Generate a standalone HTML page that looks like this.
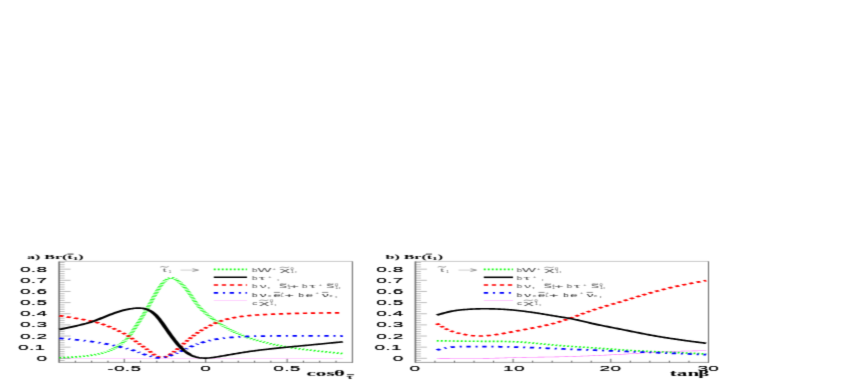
<!DOCTYPE html>
<html><head><meta charset="utf-8"><title>Br</title>
<style>
html,body{margin:0;padding:0;background:#fff;}
body{width:850px;height:382px;overflow:hidden;}
svg{display:block;}
text{font-family:"Liberation Sans",sans-serif;}
.tk{font-size:7.0px;fill:#000;letter-spacing:0.12px;}
.lg{font-size:5.7px;fill:#484848;}
.sup{font-size:3.5px;fill:#484848;}
.tt{font-family:"Liberation Serif",serif;font-weight:bold;font-size:6.6px;fill:#000;}
.ax{font-family:"Liberation Serif",serif;font-weight:bold;font-size:7.6px;fill:#000;}
.axt{font-family:"Liberation Serif",serif;font-weight:bold;font-size:7.7px;fill:#000;}
.axb{font-family:"Liberation Serif",serif;font-weight:bold;font-size:7.2px;fill:#000;}
.axs{font-family:"Liberation Serif",serif;font-weight:bold;font-size:5.5px;fill:#000;}
.tsub{font-size:4.6px;}
</style></head><body>
<svg width="850" height="382" viewBox="0 0 850 382">
<defs><filter id="bl" x="0" y="240" width="850" height="142" filterUnits="userSpaceOnUse" color-interpolation-filters="sRGB"><feConvolveMatrix order="3" kernelMatrix="0.0180 0.0540 0.0180 0.1640 0.4920 0.1640 0.0180 0.0540 0.0180" divisor="1" edgeMode="duplicate" preserveAlpha="false"/></filter></defs>
<rect width="850" height="382" fill="#fff"/>
<g filter="url(#bl)"><rect y="240" width="850" height="142" fill="#fff"/>
<path d="M59.10,360.53 h5.50 M59.10,358.30 h11.50 M59.10,356.07 h5.50 M59.10,353.84 h5.50 M59.10,351.62 h5.50 M59.10,349.39 h5.50 M59.10,347.16 h11.50 M59.10,344.93 h5.50 M59.10,342.70 h5.50 M59.10,340.48 h5.50 M59.10,338.25 h5.50 M59.10,336.02 h11.50 M59.10,333.79 h5.50 M59.10,331.56 h5.50 M59.10,329.34 h5.50 M59.10,327.11 h5.50 M59.10,324.88 h11.50 M59.10,322.65 h5.50 M59.10,320.42 h5.50 M59.10,318.20 h5.50 M59.10,315.97 h5.50 M59.10,313.74 h11.50 M59.10,311.51 h5.50 M59.10,309.28 h5.50 M59.10,307.06 h5.50 M59.10,304.83 h5.50 M59.10,302.60 h11.50 M59.10,300.37 h5.50 M59.10,298.14 h5.50 M59.10,295.92 h5.50 M59.10,293.69 h5.50 M59.10,291.46 h11.50 M59.10,289.23 h5.50 M59.10,287.00 h5.50 M59.10,284.78 h5.50 M59.10,282.55 h5.50 M59.10,280.32 h11.50 M59.10,278.09 h5.50 M59.10,275.86 h5.50 M59.10,273.64 h5.50 M59.10,271.41 h5.50 M59.10,269.18 h11.50 M59.10,266.95 h5.50 M59.10,264.72 h5.50 M59.10,262.50 h5.50 " fill="none" stroke="#8a8a8a" stroke-width="0.55"/>
<path d="M59.10,261.4 H352.40" fill="none" stroke="#a4a4a4" stroke-width="0.6"/>
<path d="M59.10,362.4 H352.40" fill="none" stroke="#777" stroke-width="0.7"/>
<path d="M59.10,261.4 V362.79999999999995" fill="none" stroke="#686868" stroke-width="1.55"/>
<path d="M352.40,261.4 V362.79999999999995" fill="none" stroke="#3a3a3a" stroke-width="0.85"/>
<path d="M124.25,362.4 v-3.6 M205.70,362.4 v-3.6 M287.15,362.4 v-3.6 M75.38,362.4 v-1.7 M91.67,362.4 v-1.7 M107.96,362.4 v-1.7 M140.54,362.4 v-1.7 M156.83,362.4 v-1.7 M173.12,362.4 v-1.7 M189.41,362.4 v-1.7 M221.99,362.4 v-1.7 M238.28,362.4 v-1.7 M254.57,362.4 v-1.7 M270.86,362.4 v-1.7 M303.44,362.4 v-1.7 M319.73,362.4 v-1.7 M336.02,362.4 v-1.7 " fill="none" stroke="#444" stroke-width="0.9"/>
<path d="M415.40,360.53 h5.50 M415.40,358.30 h11.50 M415.40,356.07 h5.50 M415.40,353.84 h5.50 M415.40,351.62 h5.50 M415.40,349.39 h5.50 M415.40,347.16 h11.50 M415.40,344.93 h5.50 M415.40,342.70 h5.50 M415.40,340.48 h5.50 M415.40,338.25 h5.50 M415.40,336.02 h11.50 M415.40,333.79 h5.50 M415.40,331.56 h5.50 M415.40,329.34 h5.50 M415.40,327.11 h5.50 M415.40,324.88 h11.50 M415.40,322.65 h5.50 M415.40,320.42 h5.50 M415.40,318.20 h5.50 M415.40,315.97 h5.50 M415.40,313.74 h11.50 M415.40,311.51 h5.50 M415.40,309.28 h5.50 M415.40,307.06 h5.50 M415.40,304.83 h5.50 M415.40,302.60 h11.50 M415.40,300.37 h5.50 M415.40,298.14 h5.50 M415.40,295.92 h5.50 M415.40,293.69 h5.50 M415.40,291.46 h11.50 M415.40,289.23 h5.50 M415.40,287.00 h5.50 M415.40,284.78 h5.50 M415.40,282.55 h5.50 M415.40,280.32 h11.50 M415.40,278.09 h5.50 M415.40,275.86 h5.50 M415.40,273.64 h5.50 M415.40,271.41 h5.50 M415.40,269.18 h11.50 M415.40,266.95 h5.50 M415.40,264.72 h5.50 M415.40,262.50 h5.50 " fill="none" stroke="#8a8a8a" stroke-width="0.55"/>
<path d="M415.40,261.4 H708.50" fill="none" stroke="#a4a4a4" stroke-width="0.6"/>
<path d="M415.40,362.4 H708.50" fill="none" stroke="#777" stroke-width="0.7"/>
<path d="M415.40,261.4 V362.79999999999995" fill="none" stroke="#686868" stroke-width="1.55"/>
<path d="M708.50,261.4 V362.79999999999995" fill="none" stroke="#3a3a3a" stroke-width="0.85"/>
<path d="M513.10,362.4 v-3.6 M610.80,362.4 v-3.6 M434.94,362.4 v-1.7 M454.48,362.4 v-1.7 M474.02,362.4 v-1.7 M493.56,362.4 v-1.7 M532.64,362.4 v-1.7 M552.18,362.4 v-1.7 M571.72,362.4 v-1.7 M591.26,362.4 v-1.7 M630.34,362.4 v-1.7 M649.88,362.4 v-1.7 M669.42,362.4 v-1.7 M688.96,362.4 v-1.7 " fill="none" stroke="#444" stroke-width="0.9"/>
<g transform="scale(2.7,1)">
<path d="M22.000,358.30 L22.439,358.30 L22.878,358.30 L23.318,358.30 L23.757,358.30 L24.196,358.30 L24.635,358.30 L25.074,358.30 L25.513,358.30 L25.953,358.30 L26.392,358.30 L26.831,358.30 L27.270,358.30 L27.709,358.30 L28.148,358.30 L28.588,358.30 L29.027,358.30 L29.466,358.30 L29.905,358.30 L30.344,358.30 L30.784,358.30 L31.223,358.30 L31.662,358.30 L32.101,358.30 L32.540,358.30 L32.979,358.30 L33.419,358.30 L33.858,358.30 L34.297,358.30 L34.736,358.30 L35.175,358.30 L35.614,358.30 L36.054,358.30 L36.493,358.30 L36.932,358.30 L37.371,358.30 L37.810,358.30 L38.249,358.30 L38.689,358.30 L39.128,358.30 L39.567,358.30 L40.006,358.30 L40.445,358.30 L40.885,358.30 L41.324,358.30 L41.763,358.30 L42.202,358.30 L42.641,358.30 L43.080,358.30 L43.520,358.30 L43.959,358.30 L44.398,358.30 L44.837,358.30 L45.276,358.30 L45.715,358.30 L46.155,358.30 L46.594,358.30 L47.033,358.30 L47.472,358.30 L47.911,358.30 L48.351,358.30 L48.790,358.30 L49.229,358.30 L49.668,358.30 L50.107,358.30 L50.546,358.30 L50.986,358.30 L51.425,358.30 L51.864,358.30 L52.303,358.30 L52.742,358.30 L53.181,358.30 L53.621,358.30 L54.060,358.30 L54.499,358.30 L54.938,358.30 L55.377,358.30 L55.817,358.30 L56.256,358.30 L56.695,358.30 L57.134,358.30 L57.573,358.30 L58.012,358.30 L58.452,358.30 L58.891,358.30 L59.330,358.30 L59.769,358.30 L60.208,358.30 L60.647,358.30 L61.087,358.30 L61.526,358.30 L61.965,358.30 L62.404,358.30 L62.843,358.30 L63.283,358.30 L63.722,358.30 L64.161,358.30 L64.600,358.30 L65.039,358.30 L65.478,358.30 L65.918,358.30 L66.357,358.30 L66.796,358.30 L67.235,358.30 L67.674,358.30 L68.113,358.30 L68.553,358.30 L68.992,358.30 L69.431,358.30 L69.870,358.30 L70.309,358.30 L70.748,358.30 L71.188,358.30 L71.627,358.30 L72.066,358.30 L72.505,358.30 L72.944,358.30 L73.384,358.30 L73.823,358.30 L74.262,358.30 L74.701,358.30 L75.140,358.30 L75.579,358.30 L76.019,358.30 L76.458,358.30 L76.897,358.30 L77.336,358.30 L77.775,358.30 L78.214,358.30 L78.654,358.30 L79.093,358.30 L79.532,358.30 L79.971,358.30 L80.410,358.30 L80.850,358.30 L81.289,358.30 L81.728,358.30 L82.167,358.30 L82.606,358.30 L83.045,358.30 L83.485,358.30 L83.924,358.30 L84.363,358.30 L84.802,358.30 L85.241,358.30 L85.680,358.30 L86.120,358.30 L86.559,358.30 L86.998,358.30 L87.437,358.30 L87.876,358.30 L88.316,358.30 L88.755,358.30 L89.194,358.30 L89.633,358.30 L90.072,358.30 L90.511,358.30 L90.951,358.30 L91.390,358.30 L91.829,358.30 L92.268,358.30 L92.707,358.30 L93.146,358.30 L93.586,358.30 L94.025,358.30 L94.464,358.30 L94.903,358.30 L95.342,358.30 L95.781,358.30 L96.221,358.30 L96.660,358.30 L97.099,358.30 L97.538,358.30 L97.977,358.30 L98.417,358.30 L98.856,358.30 L99.295,358.30 L99.734,358.30 L100.173,358.30 L100.612,358.30 L101.052,358.30 L101.491,358.30 L101.930,358.30 L102.369,358.30 L102.808,358.30 L103.247,358.30 L103.687,358.30 L104.126,358.30 L104.565,358.30 L105.004,358.30 L105.443,358.30 L105.883,358.30 L106.322,358.30 L106.761,358.30 L107.200,358.30 L107.639,358.30 L108.078,358.30 L108.518,358.30 L108.957,358.30 L109.396,358.30 L109.835,358.30 L110.274,358.30 L110.713,358.30 L111.153,358.30 L111.592,358.30 L112.031,358.30 L112.470,358.30 L112.909,358.30 L113.349,358.30 L113.788,358.30 L114.227,358.30 L114.666,358.30 L115.105,358.30 L115.544,358.30 L115.984,358.30 L116.423,358.30 L116.862,358.30 L117.301,358.30 L117.740,358.30 L118.179,358.30 L118.619,358.30 L119.058,358.30 L119.497,358.30 L119.936,358.30 L120.375,358.30 L120.815,358.30 L121.254,358.30 L121.693,358.30 L122.132,358.30 L122.571,358.30 L123.010,358.30 L123.450,358.30 L123.889,358.30 L124.328,358.30 L124.767,358.30 L125.206,358.30 L125.645,358.30 L126.085,358.30 L126.524,358.30 L126.963,358.30" fill="none" stroke="#ff00ff" stroke-width="0.6" stroke-opacity="0.35"/>
<path d="M22.000,357.80 L22.439,357.75 L22.878,357.70 L23.318,357.65 L23.757,357.59 L24.196,357.54 L24.635,357.48 L25.074,357.42 L25.513,357.36 L25.953,357.30 L26.392,357.23 L26.831,357.16 L27.270,357.09 L27.709,357.01 L28.148,356.92 L28.588,356.84 L29.027,356.74 L29.466,356.64 L29.905,356.54 L30.344,356.43 L30.784,356.31 L31.223,356.18 L31.662,356.05 L32.101,355.91 L32.540,355.76 L32.979,355.60 L33.419,355.44 L33.858,355.26 L34.297,355.07 L34.736,354.87 L35.175,354.66 L35.614,354.43 L36.054,354.20 L36.493,353.95 L36.932,353.68 L37.371,353.40 L37.810,353.11 L38.249,352.79 L38.689,352.45 L39.128,352.09 L39.567,351.69 L40.006,351.26 L40.445,350.79 L40.885,350.28 L41.324,349.73 L41.763,349.13 L42.202,348.48 L42.641,347.80 L43.080,347.08 L43.520,346.32 L43.959,345.53 L44.398,344.70 L44.837,343.84 L45.276,342.94 L45.715,341.97 L46.155,340.93 L46.594,339.81 L47.033,338.60 L47.472,337.29 L47.911,335.87 L48.351,334.32 L48.790,332.68 L49.229,330.95 L49.668,329.17 L50.107,327.36 L50.546,325.54 L50.986,323.73 L51.425,321.93 L51.864,320.13 L52.303,318.32 L52.742,316.48 L53.181,314.62 L53.621,312.72 L54.060,310.77 L54.499,308.77 L54.938,306.71 L55.377,304.61 L55.817,302.48 L56.256,300.34 L56.695,298.20 L57.134,296.09 L57.573,294.02 L58.012,292.00 L58.452,290.06 L58.891,288.20 L59.330,286.45 L59.769,284.83 L60.208,283.35 L60.647,282.02 L61.087,280.87 L61.526,279.89 L61.965,279.11 L62.404,278.52 L62.843,278.14 L63.283,277.98 L63.722,278.03 L64.161,278.28 L64.600,278.71 L65.039,279.29 L65.478,280.01 L65.918,280.85 L66.357,281.79 L66.796,282.81 L67.235,283.92 L67.674,285.11 L68.113,286.38 L68.553,287.72 L68.992,289.15 L69.431,290.65 L69.870,292.23 L70.309,293.89 L70.748,295.62 L71.188,297.40 L71.627,299.20 L72.066,300.95 L72.505,302.61 L72.944,304.16 L73.384,305.62 L73.823,307.00 L74.262,308.29 L74.701,309.52 L75.140,310.68 L75.579,311.78 L76.019,312.85 L76.458,313.87 L76.897,314.87 L77.336,315.83 L77.775,316.77 L78.214,317.67 L78.654,318.56 L79.093,319.42 L79.532,320.26 L79.971,321.08 L80.410,321.88 L80.850,322.67 L81.289,323.44 L81.728,324.20 L82.167,324.94 L82.606,325.67 L83.045,326.38 L83.485,327.08 L83.924,327.77 L84.363,328.43 L84.802,329.09 L85.241,329.73 L85.680,330.35 L86.120,330.96 L86.559,331.56 L86.998,332.14 L87.437,332.70 L87.876,333.25 L88.316,333.79 L88.755,334.31 L89.194,334.82 L89.633,335.31 L90.072,335.78 L90.511,336.24 L90.951,336.69 L91.390,337.12 L91.829,337.54 L92.268,337.94 L92.707,338.33 L93.146,338.71 L93.586,339.08 L94.025,339.44 L94.464,339.79 L94.903,340.13 L95.342,340.47 L95.781,340.79 L96.221,341.11 L96.660,341.43 L97.099,341.73 L97.538,342.03 L97.977,342.33 L98.417,342.62 L98.856,342.91 L99.295,343.19 L99.734,343.46 L100.173,343.73 L100.612,344.00 L101.052,344.25 L101.491,344.51 L101.930,344.76 L102.369,345.00 L102.808,345.24 L103.247,345.47 L103.687,345.70 L104.126,345.93 L104.565,346.15 L105.004,346.36 L105.443,346.57 L105.883,346.78 L106.322,346.98 L106.761,347.17 L107.200,347.36 L107.639,347.55 L108.078,347.73 L108.518,347.91 L108.957,348.09 L109.396,348.26 L109.835,348.43 L110.274,348.59 L110.713,348.75 L111.153,348.91 L111.592,349.07 L112.031,349.22 L112.470,349.37 L112.909,349.52 L113.349,349.66 L113.788,349.81 L114.227,349.95 L114.666,350.09 L115.105,350.23 L115.544,350.37 L115.984,350.50 L116.423,350.64 L116.862,350.77 L117.301,350.90 L117.740,351.04 L118.179,351.17 L118.619,351.29 L119.058,351.42 L119.497,351.55 L119.936,351.67 L120.375,351.80 L120.815,351.92 L121.254,352.05 L121.693,352.17 L122.132,352.29 L122.571,352.41 L123.010,352.53 L123.450,352.65 L123.889,352.77 L124.328,352.89 L124.767,353.01 L125.206,353.13 L125.645,353.25 L126.085,353.36 L126.524,353.48 L126.963,353.60" fill="none" stroke="#00ff00" stroke-width="1.65" stroke-dasharray="0.68 0.80"/>
<path d="M22.000,315.70 L22.439,315.88 L22.878,316.07 L23.318,316.25 L23.757,316.43 L24.196,316.62 L24.635,316.80 L25.074,316.99 L25.513,317.18 L25.953,317.36 L26.392,317.55 L26.831,317.75 L27.270,317.94 L27.709,318.14 L28.148,318.34 L28.588,318.54 L29.027,318.74 L29.466,318.95 L29.905,319.16 L30.344,319.37 L30.784,319.58 L31.223,319.80 L31.662,320.03 L32.101,320.25 L32.540,320.49 L32.979,320.73 L33.419,320.98 L33.858,321.24 L34.297,321.51 L34.736,321.78 L35.175,322.07 L35.614,322.37 L36.054,322.69 L36.493,323.01 L36.932,323.36 L37.371,323.72 L37.810,324.09 L38.249,324.48 L38.689,324.89 L39.128,325.31 L39.567,325.75 L40.006,326.20 L40.445,326.68 L40.885,327.17 L41.324,327.67 L41.763,328.19 L42.202,328.73 L42.641,329.27 L43.080,329.82 L43.520,330.39 L43.959,330.95 L44.398,331.52 L44.837,332.10 L45.276,332.68 L45.715,333.28 L46.155,333.89 L46.594,334.54 L47.033,335.22 L47.472,335.94 L47.911,336.70 L48.351,337.51 L48.790,338.36 L49.229,339.23 L49.668,340.11 L50.107,341.00 L50.546,341.88 L50.986,342.75 L51.425,343.59 L51.864,344.43 L52.303,345.25 L52.742,346.08 L53.181,346.91 L53.621,347.75 L54.060,348.60 L54.499,349.47 L54.938,350.35 L55.377,351.23 L55.817,352.10 L56.256,352.96 L56.695,353.79 L57.134,354.58 L57.573,355.32 L58.012,355.98 L58.452,356.57 L58.891,357.04 L59.330,357.38 L59.769,357.56 L60.208,357.56 L60.647,357.38 L61.087,357.05 L61.526,356.60 L61.965,356.08 L62.404,355.47 L62.843,354.79 L63.283,354.04 L63.722,353.23 L64.161,352.37 L64.600,351.46 L65.039,350.52 L65.478,349.56 L65.918,348.57 L66.357,347.57 L66.796,346.56 L67.235,345.54 L67.674,344.53 L68.113,343.51 L68.553,342.51 L68.992,341.51 L69.431,340.53 L69.870,339.56 L70.309,338.60 L70.748,337.67 L71.188,336.74 L71.627,335.83 L72.066,334.93 L72.505,334.06 L72.944,333.21 L73.384,332.39 L73.823,331.61 L74.262,330.86 L74.701,330.14 L75.140,329.45 L75.579,328.78 L76.019,328.13 L76.458,327.49 L76.897,326.86 L77.336,326.25 L77.775,325.65 L78.214,325.06 L78.654,324.49 L79.093,323.94 L79.532,323.40 L79.971,322.89 L80.410,322.40 L80.850,321.93 L81.289,321.49 L81.728,321.07 L82.167,320.67 L82.606,320.30 L83.045,319.94 L83.485,319.60 L83.924,319.28 L84.363,318.97 L84.802,318.69 L85.241,318.42 L85.680,318.16 L86.120,317.91 L86.559,317.68 L86.998,317.46 L87.437,317.26 L87.876,317.06 L88.316,316.88 L88.755,316.70 L89.194,316.53 L89.633,316.38 L90.072,316.23 L90.511,316.09 L90.951,315.96 L91.390,315.83 L91.829,315.72 L92.268,315.61 L92.707,315.50 L93.146,315.40 L93.586,315.30 L94.025,315.21 L94.464,315.13 L94.903,315.05 L95.342,314.97 L95.781,314.89 L96.221,314.82 L96.660,314.75 L97.099,314.69 L97.538,314.63 L97.977,314.57 L98.417,314.51 L98.856,314.45 L99.295,314.40 L99.734,314.34 L100.173,314.29 L100.612,314.24 L101.052,314.19 L101.491,314.14 L101.930,314.09 L102.369,314.04 L102.808,314.00 L103.247,313.95 L103.687,313.91 L104.126,313.86 L104.565,313.82 L105.004,313.78 L105.443,313.74 L105.883,313.70 L106.322,313.66 L106.761,313.62 L107.200,313.59 L107.639,313.55 L108.078,313.52 L108.518,313.49 L108.957,313.45 L109.396,313.42 L109.835,313.40 L110.274,313.37 L110.713,313.34 L111.153,313.31 L111.592,313.29 L112.031,313.26 L112.470,313.24 L112.909,313.22 L113.349,313.20 L113.788,313.18 L114.227,313.16 L114.666,313.14 L115.105,313.12 L115.544,313.10 L115.984,313.08 L116.423,313.07 L116.862,313.05 L117.301,313.04 L117.740,313.02 L118.179,313.01 L118.619,312.99 L119.058,312.98 L119.497,312.97 L119.936,312.95 L120.375,312.94 L120.815,312.93 L121.254,312.92 L121.693,312.91 L122.132,312.90 L122.571,312.89 L123.010,312.88 L123.450,312.87 L123.889,312.86 L124.328,312.85 L124.767,312.84 L125.206,312.83 L125.645,312.83 L126.085,312.82 L126.524,312.81 L126.963,312.80" fill="none" stroke="#ff0000" stroke-width="1.65" stroke-dasharray="1.6 1.37"/>
<path d="M22.000,338.30 L22.439,338.40 L22.878,338.49 L23.318,338.59 L23.757,338.69 L24.196,338.79 L24.635,338.89 L25.074,338.99 L25.513,339.09 L25.953,339.19 L26.392,339.30 L26.831,339.40 L27.270,339.51 L27.709,339.63 L28.148,339.74 L28.588,339.86 L29.027,339.98 L29.466,340.10 L29.905,340.23 L30.344,340.36 L30.784,340.49 L31.223,340.63 L31.662,340.77 L32.101,340.92 L32.540,341.06 L32.979,341.22 L33.419,341.38 L33.858,341.54 L34.297,341.71 L34.736,341.88 L35.175,342.05 L35.614,342.23 L36.054,342.42 L36.493,342.61 L36.932,342.80 L37.371,343.00 L37.810,343.20 L38.249,343.41 L38.689,343.63 L39.128,343.84 L39.567,344.07 L40.006,344.30 L40.445,344.53 L40.885,344.77 L41.324,345.02 L41.763,345.27 L42.202,345.52 L42.641,345.78 L43.080,346.05 L43.520,346.31 L43.959,346.59 L44.398,346.86 L44.837,347.14 L45.276,347.42 L45.715,347.70 L46.155,347.98 L46.594,348.27 L47.033,348.56 L47.472,348.87 L47.911,349.19 L48.351,349.53 L48.790,349.88 L49.229,350.26 L49.668,350.65 L50.107,351.08 L50.546,351.52 L50.986,351.97 L51.425,352.43 L51.864,352.89 L52.303,353.33 L52.742,353.76 L53.181,354.17 L53.621,354.55 L54.060,354.90 L54.499,355.23 L54.938,355.55 L55.377,355.85 L55.817,356.16 L56.256,356.48 L56.695,356.80 L57.134,357.10 L57.573,357.38 L58.012,357.62 L58.452,357.80 L58.891,357.92 L59.330,357.97 L59.769,357.92 L60.208,357.79 L60.647,357.58 L61.087,357.31 L61.526,356.99 L61.965,356.64 L62.404,356.26 L62.843,355.85 L63.283,355.42 L63.722,354.98 L64.161,354.52 L64.600,354.04 L65.039,353.56 L65.478,353.07 L65.918,352.57 L66.357,352.07 L66.796,351.55 L67.235,351.02 L67.674,350.47 L68.113,349.92 L68.553,349.37 L68.992,348.81 L69.431,348.26 L69.870,347.72 L70.309,347.18 L70.748,346.66 L71.188,346.15 L71.627,345.65 L72.066,345.17 L72.505,344.71 L72.944,344.28 L73.384,343.85 L73.823,343.45 L74.262,343.06 L74.701,342.68 L75.140,342.31 L75.579,341.96 L76.019,341.63 L76.458,341.31 L76.897,341.00 L77.336,340.71 L77.775,340.44 L78.214,340.18 L78.654,339.94 L79.093,339.70 L79.532,339.48 L79.971,339.28 L80.410,339.08 L80.850,338.89 L81.289,338.72 L81.728,338.55 L82.167,338.39 L82.606,338.24 L83.045,338.10 L83.485,337.97 L83.924,337.84 L84.363,337.72 L84.802,337.61 L85.241,337.50 L85.680,337.40 L86.120,337.31 L86.559,337.21 L86.998,337.13 L87.437,337.04 L87.876,336.96 L88.316,336.89 L88.755,336.82 L89.194,336.75 L89.633,336.69 L90.072,336.63 L90.511,336.57 L90.951,336.52 L91.390,336.47 L91.829,336.42 L92.268,336.38 L92.707,336.34 L93.146,336.30 L93.586,336.27 L94.025,336.23 L94.464,336.21 L94.903,336.18 L95.342,336.16 L95.781,336.13 L96.221,336.11 L96.660,336.10 L97.099,336.08 L97.538,336.06 L97.977,336.05 L98.417,336.04 L98.856,336.03 L99.295,336.02 L99.734,336.01 L100.173,336.00 L100.612,335.99 L101.052,335.98 L101.491,335.97 L101.930,335.97 L102.369,335.96 L102.808,335.95 L103.247,335.95 L103.687,335.94 L104.126,335.94 L104.565,335.93 L105.004,335.93 L105.443,335.92 L105.883,335.92 L106.322,335.91 L106.761,335.91 L107.200,335.91 L107.639,335.90 L108.078,335.90 L108.518,335.90 L108.957,335.90 L109.396,335.90 L109.835,335.90 L110.274,335.90 L110.713,335.89 L111.153,335.89 L111.592,335.89 L112.031,335.89 L112.470,335.90 L112.909,335.90 L113.349,335.90 L113.788,335.90 L114.227,335.90 L114.666,335.90 L115.105,335.90 L115.544,335.90 L115.984,335.91 L116.423,335.91 L116.862,335.91 L117.301,335.91 L117.740,335.92 L118.179,335.92 L118.619,335.92 L119.058,335.93 L119.497,335.93 L119.936,335.93 L120.375,335.94 L120.815,335.94 L121.254,335.94 L121.693,335.95 L122.132,335.95 L122.571,335.96 L123.010,335.96 L123.450,335.96 L123.889,335.97 L124.328,335.97 L124.767,335.98 L125.206,335.98 L125.645,335.99 L126.085,335.99 L126.524,336.00 L126.963,336.00" fill="none" stroke="#0000ff" stroke-width="1.75" stroke-dasharray="1.6 1.8 0.74 1.74"/>
<path d="M22.000,329.50 L22.439,329.26 L22.878,329.02 L23.318,328.78 L23.757,328.53 L24.196,328.29 L24.635,328.04 L25.074,327.79 L25.513,327.54 L25.953,327.28 L26.392,327.02 L26.831,326.76 L27.270,326.49 L27.709,326.22 L28.148,325.95 L28.588,325.68 L29.027,325.40 L29.466,325.12 L29.905,324.83 L30.344,324.54 L30.784,324.25 L31.223,323.95 L31.662,323.64 L32.101,323.32 L32.540,322.98 L32.979,322.64 L33.419,322.28 L33.858,321.90 L34.297,321.51 L34.736,321.10 L35.175,320.68 L35.614,320.24 L36.054,319.79 L36.493,319.33 L36.932,318.86 L37.371,318.39 L37.810,317.91 L38.249,317.44 L38.689,316.96 L39.128,316.48 L39.567,316.01 L40.006,315.54 L40.445,315.07 L40.885,314.61 L41.324,314.16 L41.763,313.72 L42.202,313.28 L42.641,312.86 L43.080,312.45 L43.520,312.05 L43.959,311.66 L44.398,311.29 L44.837,310.93 L45.276,310.59 L45.715,310.27 L46.155,309.97 L46.594,309.69 L47.033,309.44 L47.472,309.20 L47.911,308.99 L48.351,308.80 L48.790,308.63 L49.229,308.48 L49.668,308.34 L50.107,308.24 L50.546,308.15 L50.986,308.11 L51.425,308.10 L51.864,308.13 L52.303,308.21 L52.742,308.34 L53.181,308.53 L53.621,308.79 L54.060,309.11 L54.499,309.51 L54.938,309.99 L55.377,310.55 L55.817,311.21 L56.256,311.96 L56.695,312.82 L57.134,313.79 L57.573,314.88 L58.012,316.08 L58.452,317.40 L58.891,318.84 L59.330,320.35 L59.769,321.94 L60.208,323.58 L60.647,325.25 L61.087,326.94 L61.526,328.64 L61.965,330.35 L62.404,332.04 L62.843,333.71 L63.283,335.36 L63.722,336.98 L64.161,338.57 L64.600,340.11 L65.039,341.60 L65.478,343.04 L65.918,344.42 L66.357,345.72 L66.796,346.95 L67.235,348.12 L67.674,349.23 L68.113,350.28 L68.553,351.26 L68.992,352.18 L69.431,353.02 L69.870,353.79 L70.309,354.50 L70.748,355.13 L71.188,355.69 L71.627,356.18 L72.066,356.61 L72.505,356.97 L72.944,357.28 L73.384,357.52 L73.823,357.72 L74.262,357.88 L74.701,357.99 L75.140,358.06 L75.579,358.10 L76.019,358.11 L76.458,358.08 L76.897,358.03 L77.336,357.95 L77.775,357.85 L78.214,357.72 L78.654,357.58 L79.093,357.43 L79.532,357.26 L79.971,357.08 L80.410,356.89 L80.850,356.70 L81.289,356.50 L81.728,356.30 L82.167,356.10 L82.606,355.89 L83.045,355.69 L83.485,355.48 L83.924,355.27 L84.363,355.06 L84.802,354.84 L85.241,354.63 L85.680,354.42 L86.120,354.22 L86.559,354.01 L86.998,353.81 L87.437,353.60 L87.876,353.40 L88.316,353.21 L88.755,353.01 L89.194,352.82 L89.633,352.63 L90.072,352.44 L90.511,352.25 L90.951,352.07 L91.390,351.89 L91.829,351.71 L92.268,351.54 L92.707,351.37 L93.146,351.20 L93.586,351.04 L94.025,350.88 L94.464,350.72 L94.903,350.56 L95.342,350.41 L95.781,350.26 L96.221,350.11 L96.660,349.97 L97.099,349.82 L97.538,349.68 L97.977,349.55 L98.417,349.41 L98.856,349.28 L99.295,349.14 L99.734,349.01 L100.173,348.88 L100.612,348.75 L101.052,348.63 L101.491,348.50 L101.930,348.38 L102.369,348.25 L102.808,348.13 L103.247,348.01 L103.687,347.89 L104.126,347.77 L104.565,347.65 L105.004,347.53 L105.443,347.42 L105.883,347.30 L106.322,347.19 L106.761,347.07 L107.200,346.96 L107.639,346.84 L108.078,346.73 L108.518,346.62 L108.957,346.50 L109.396,346.39 L109.835,346.28 L110.274,346.17 L110.713,346.06 L111.153,345.94 L111.592,345.83 L112.031,345.72 L112.470,345.61 L112.909,345.50 L113.349,345.39 L113.788,345.27 L114.227,345.16 L114.666,345.05 L115.105,344.93 L115.544,344.82 L115.984,344.71 L116.423,344.59 L116.862,344.48 L117.301,344.36 L117.740,344.25 L118.179,344.13 L118.619,344.02 L119.058,343.90 L119.497,343.79 L119.936,343.67 L120.375,343.55 L120.815,343.44 L121.254,343.32 L121.693,343.21 L122.132,343.09 L122.571,342.97 L123.010,342.86 L123.450,342.74 L123.889,342.62 L124.328,342.50 L124.767,342.39 L125.206,342.27 L125.645,342.15 L126.085,342.03 L126.524,341.92 L126.963,341.80" fill="none" stroke="#000" stroke-width="1.6"/>
<path d="M161.778,358.30 L162.195,358.31 L162.613,358.32 L163.030,358.33 L163.448,358.35 L163.865,358.36 L164.283,358.37 L164.700,358.38 L165.118,358.39 L165.535,358.40 L165.953,358.41 L166.370,358.42 L166.788,358.43 L167.205,358.44 L167.623,358.45 L168.040,358.46 L168.457,358.46 L168.875,358.47 L169.292,358.48 L169.710,358.48 L170.127,358.49 L170.545,358.49 L170.962,358.50 L171.380,358.50 L171.797,358.51 L172.215,358.51 L172.632,358.51 L173.050,358.51 L173.467,358.51 L173.885,358.51 L174.302,358.51 L174.720,358.50 L175.137,358.50 L175.555,358.49 L175.972,358.49 L176.390,358.48 L176.807,358.47 L177.225,358.46 L177.642,358.45 L178.060,358.44 L178.477,358.43 L178.894,358.42 L179.312,358.40 L179.729,358.38 L180.147,358.37 L180.564,358.35 L180.982,358.33 L181.399,358.30 L181.817,358.28 L182.234,358.26 L182.652,358.23 L183.069,358.20 L183.487,358.17 L183.904,358.14 L184.322,358.11 L184.739,358.08 L185.157,358.05 L185.574,358.02 L185.992,357.98 L186.409,357.95 L186.827,357.92 L187.244,357.88 L187.662,357.85 L188.079,357.81 L188.497,357.78 L188.914,357.75 L189.331,357.71 L189.749,357.68 L190.166,357.65 L190.584,357.61 L191.001,357.58 L191.419,357.55 L191.836,357.52 L192.254,357.49 L192.671,357.47 L193.089,357.44 L193.506,357.41 L193.924,357.39 L194.341,357.37 L194.759,357.34 L195.176,357.32 L195.594,357.30 L196.011,357.29 L196.429,357.27 L196.846,357.25 L197.264,357.24 L197.681,357.22 L198.099,357.21 L198.516,357.19 L198.934,357.18 L199.351,357.16 L199.768,357.15 L200.186,357.13 L200.603,357.12 L201.021,357.11 L201.438,357.09 L201.856,357.07 L202.273,357.06 L202.691,357.04 L203.108,357.03 L203.526,357.01 L203.943,356.99 L204.361,356.97 L204.778,356.95 L205.196,356.93 L205.613,356.90 L206.031,356.88 L206.448,356.85 L206.866,356.83 L207.283,356.80 L207.701,356.78 L208.118,356.75 L208.536,356.72 L208.953,356.69 L209.371,356.66 L209.788,356.63 L210.205,356.59 L210.623,356.56 L211.040,356.53 L211.458,356.49 L211.875,356.46 L212.293,356.42 L212.710,356.38 L213.128,356.35 L213.545,356.31 L213.963,356.27 L214.380,356.23 L214.798,356.19 L215.215,356.15 L215.633,356.11 L216.050,356.06 L216.468,356.02 L216.885,355.98 L217.303,355.93 L217.720,355.89 L218.138,355.84 L218.555,355.80 L218.973,355.75 L219.390,355.70 L219.808,355.65 L220.225,355.61 L220.642,355.56 L221.060,355.51 L221.477,355.46 L221.895,355.41 L222.312,355.36 L222.730,355.30 L223.147,355.25 L223.565,355.20 L223.982,355.14 L224.400,355.09 L224.817,355.04 L225.235,354.98 L225.652,354.92 L226.070,354.87 L226.487,354.81 L226.905,354.75 L227.322,354.70 L227.740,354.64 L228.157,354.58 L228.575,354.52 L228.992,354.46 L229.410,354.39 L229.827,354.33 L230.245,354.27 L230.662,354.21 L231.079,354.14 L231.497,354.08 L231.914,354.01 L232.332,353.95 L232.749,353.88 L233.167,353.81 L233.584,353.75 L234.002,353.68 L234.419,353.61 L234.837,353.54 L235.254,353.47 L235.672,353.40 L236.089,353.33 L236.507,353.25 L236.924,353.18 L237.342,353.11 L237.759,353.04 L238.177,352.97 L238.594,352.89 L239.012,352.82 L239.429,352.75 L239.847,352.68 L240.264,352.61 L240.682,352.54 L241.099,352.47 L241.517,352.40 L241.934,352.33 L242.351,352.26 L242.769,352.20 L243.186,352.14 L243.604,352.07 L244.021,352.01 L244.439,351.95 L244.856,351.89 L245.274,351.84 L245.691,351.78 L246.109,351.73 L246.526,351.68 L246.944,351.63 L247.361,351.59 L247.779,351.54 L248.196,351.50 L248.614,351.46 L249.031,351.42 L249.449,351.38 L249.866,351.34 L250.284,351.30 L250.701,351.27 L251.119,351.24 L251.536,351.21 L251.954,351.18 L252.371,351.15 L252.788,351.12 L253.206,351.09 L253.623,351.07 L254.041,351.04 L254.458,351.02 L254.876,350.99 L255.293,350.97 L255.711,350.95 L256.128,350.93 L256.546,350.91 L256.963,350.89 L257.381,350.87 L257.798,350.85 L258.216,350.83 L258.633,350.82 L259.051,350.80 L259.468,350.78 L259.886,350.76 L260.303,350.75 L260.721,350.73 L261.138,350.72 L261.556,350.70" fill="none" stroke="#ff00ff" stroke-width="0.6" stroke-opacity="0.55"/>
<path d="M161.778,340.80 L162.195,340.82 L162.613,340.83 L163.030,340.85 L163.448,340.87 L163.865,340.89 L164.283,340.90 L164.700,340.92 L165.118,340.94 L165.535,340.95 L165.953,340.97 L166.370,340.99 L166.788,341.00 L167.205,341.02 L167.623,341.03 L168.040,341.05 L168.457,341.06 L168.875,341.08 L169.292,341.09 L169.710,341.11 L170.127,341.12 L170.545,341.13 L170.962,341.15 L171.380,341.16 L171.797,341.17 L172.215,341.18 L172.632,341.20 L173.050,341.21 L173.467,341.22 L173.885,341.23 L174.302,341.24 L174.720,341.25 L175.137,341.26 L175.555,341.26 L175.972,341.27 L176.390,341.28 L176.807,341.28 L177.225,341.29 L177.642,341.30 L178.060,341.30 L178.477,341.30 L178.894,341.31 L179.312,341.31 L179.729,341.31 L180.147,341.31 L180.564,341.32 L180.982,341.32 L181.399,341.32 L181.817,341.33 L182.234,341.33 L182.652,341.33 L183.069,341.34 L183.487,341.35 L183.904,341.35 L184.322,341.36 L184.739,341.37 L185.157,341.39 L185.574,341.40 L185.992,341.42 L186.409,341.43 L186.827,341.45 L187.244,341.47 L187.662,341.50 L188.079,341.53 L188.497,341.56 L188.914,341.59 L189.331,341.62 L189.749,341.66 L190.166,341.70 L190.584,341.75 L191.001,341.80 L191.419,341.85 L191.836,341.90 L192.254,341.96 L192.671,342.03 L193.089,342.09 L193.506,342.17 L193.924,342.24 L194.341,342.32 L194.759,342.41 L195.176,342.50 L195.594,342.59 L196.011,342.69 L196.429,342.79 L196.846,342.89 L197.264,342.99 L197.681,343.10 L198.099,343.21 L198.516,343.31 L198.934,343.43 L199.351,343.54 L199.768,343.65 L200.186,343.76 L200.603,343.88 L201.021,343.99 L201.438,344.10 L201.856,344.22 L202.273,344.33 L202.691,344.44 L203.108,344.55 L203.526,344.65 L203.943,344.76 L204.361,344.86 L204.778,344.96 L205.196,345.06 L205.613,345.16 L206.031,345.25 L206.448,345.35 L206.866,345.44 L207.283,345.53 L207.701,345.62 L208.118,345.70 L208.536,345.79 L208.953,345.88 L209.371,345.96 L209.788,346.04 L210.205,346.12 L210.623,346.20 L211.040,346.28 L211.458,346.36 L211.875,346.44 L212.293,346.52 L212.710,346.59 L213.128,346.67 L213.545,346.74 L213.963,346.82 L214.380,346.89 L214.798,346.97 L215.215,347.04 L215.633,347.12 L216.050,347.19 L216.468,347.27 L216.885,347.34 L217.303,347.42 L217.720,347.49 L218.138,347.57 L218.555,347.64 L218.973,347.72 L219.390,347.80 L219.808,347.88 L220.225,347.95 L220.642,348.03 L221.060,348.11 L221.477,348.19 L221.895,348.27 L222.312,348.35 L222.730,348.43 L223.147,348.52 L223.565,348.60 L223.982,348.68 L224.400,348.76 L224.817,348.84 L225.235,348.92 L225.652,349.00 L226.070,349.09 L226.487,349.17 L226.905,349.25 L227.322,349.33 L227.740,349.41 L228.157,349.49 L228.575,349.57 L228.992,349.65 L229.410,349.72 L229.827,349.80 L230.245,349.88 L230.662,349.95 L231.079,350.03 L231.497,350.10 L231.914,350.18 L232.332,350.25 L232.749,350.32 L233.167,350.39 L233.584,350.46 L234.002,350.53 L234.419,350.60 L234.837,350.66 L235.254,350.73 L235.672,350.79 L236.089,350.85 L236.507,350.91 L236.924,350.97 L237.342,351.03 L237.759,351.09 L238.177,351.14 L238.594,351.20 L239.012,351.25 L239.429,351.30 L239.847,351.36 L240.264,351.41 L240.682,351.46 L241.099,351.51 L241.517,351.56 L241.934,351.61 L242.351,351.65 L242.769,351.70 L243.186,351.75 L243.604,351.80 L244.021,351.84 L244.439,351.89 L244.856,351.94 L245.274,351.98 L245.691,352.03 L246.109,352.07 L246.526,352.12 L246.944,352.17 L247.361,352.21 L247.779,352.26 L248.196,352.31 L248.614,352.35 L249.031,352.40 L249.449,352.45 L249.866,352.49 L250.284,352.54 L250.701,352.59 L251.119,352.64 L251.536,352.69 L251.954,352.74 L252.371,352.79 L252.788,352.84 L253.206,352.90 L253.623,352.95 L254.041,353.00 L254.458,353.05 L254.876,353.11 L255.293,353.16 L255.711,353.22 L256.128,353.27 L256.546,353.33 L256.963,353.38 L257.381,353.44 L257.798,353.49 L258.216,353.55 L258.633,353.60 L259.051,353.66 L259.468,353.72 L259.886,353.77 L260.303,353.83 L260.721,353.89 L261.138,353.94 L261.556,354.00" fill="none" stroke="#00ff00" stroke-width="1.65" stroke-dasharray="0.68 0.80"/>
<path d="M161.778,323.53 L162.195,324.22 L162.613,324.91 L163.030,325.59 L163.448,326.26 L163.865,326.91 L164.283,327.54 L164.700,328.15 L165.118,328.73 L165.535,329.27 L165.953,329.78 L166.370,330.26 L166.788,330.70 L167.205,331.12 L167.623,331.51 L168.040,331.87 L168.457,332.21 L168.875,332.53 L169.292,332.84 L169.710,333.12 L170.127,333.39 L170.545,333.65 L170.962,333.89 L171.380,334.13 L171.797,334.35 L172.215,334.57 L172.632,334.77 L173.050,334.95 L173.467,335.13 L173.885,335.29 L174.302,335.44 L174.720,335.57 L175.137,335.68 L175.555,335.78 L175.972,335.87 L176.390,335.93 L176.807,335.98 L177.225,336.01 L177.642,336.02 L178.060,336.01 L178.477,335.98 L178.894,335.94 L179.312,335.89 L179.729,335.82 L180.147,335.74 L180.564,335.64 L180.982,335.54 L181.399,335.42 L181.817,335.29 L182.234,335.16 L182.652,335.01 L183.069,334.86 L183.487,334.70 L183.904,334.54 L184.322,334.37 L184.739,334.20 L185.157,334.02 L185.574,333.83 L185.992,333.65 L186.409,333.46 L186.827,333.26 L187.244,333.06 L187.662,332.86 L188.079,332.66 L188.497,332.45 L188.914,332.25 L189.331,332.04 L189.749,331.83 L190.166,331.62 L190.584,331.41 L191.001,331.20 L191.419,330.99 L191.836,330.78 L192.254,330.57 L192.671,330.37 L193.089,330.16 L193.506,329.95 L193.924,329.74 L194.341,329.54 L194.759,329.33 L195.176,329.12 L195.594,328.91 L196.011,328.70 L196.429,328.49 L196.846,328.28 L197.264,328.07 L197.681,327.85 L198.099,327.64 L198.516,327.42 L198.934,327.20 L199.351,326.98 L199.768,326.75 L200.186,326.52 L200.603,326.29 L201.021,326.05 L201.438,325.81 L201.856,325.57 L202.273,325.31 L202.691,325.05 L203.108,324.79 L203.526,324.51 L203.943,324.23 L204.361,323.94 L204.778,323.64 L205.196,323.34 L205.613,323.03 L206.031,322.71 L206.448,322.38 L206.866,322.05 L207.283,321.71 L207.701,321.36 L208.118,321.01 L208.536,320.65 L208.953,320.28 L209.371,319.91 L209.788,319.54 L210.205,319.16 L210.623,318.77 L211.040,318.38 L211.458,317.99 L211.875,317.59 L212.293,317.19 L212.710,316.79 L213.128,316.38 L213.545,315.97 L213.963,315.56 L214.380,315.15 L214.798,314.74 L215.215,314.33 L215.633,313.91 L216.050,313.50 L216.468,313.09 L216.885,312.69 L217.303,312.28 L217.720,311.88 L218.138,311.49 L218.555,311.09 L218.973,310.70 L219.390,310.32 L219.808,309.94 L220.225,309.57 L220.642,309.21 L221.060,308.84 L221.477,308.49 L221.895,308.13 L222.312,307.79 L222.730,307.44 L223.147,307.10 L223.565,306.76 L223.982,306.42 L224.400,306.09 L224.817,305.76 L225.235,305.43 L225.652,305.10 L226.070,304.77 L226.487,304.44 L226.905,304.12 L227.322,303.79 L227.740,303.46 L228.157,303.14 L228.575,302.81 L228.992,302.48 L229.410,302.15 L229.827,301.82 L230.245,301.48 L230.662,301.15 L231.079,300.81 L231.497,300.47 L231.914,300.13 L232.332,299.79 L232.749,299.44 L233.167,299.10 L233.584,298.76 L234.002,298.41 L234.419,298.07 L234.837,297.72 L235.254,297.38 L235.672,297.04 L236.089,296.69 L236.507,296.35 L236.924,296.01 L237.342,295.67 L237.759,295.34 L238.177,295.00 L238.594,294.67 L239.012,294.34 L239.429,294.01 L239.847,293.68 L240.264,293.35 L240.682,293.03 L241.099,292.72 L241.517,292.40 L241.934,292.09 L242.351,291.78 L242.769,291.47 L243.186,291.17 L243.604,290.87 L244.021,290.57 L244.439,290.28 L244.856,289.99 L245.274,289.70 L245.691,289.42 L246.109,289.14 L246.526,288.86 L246.944,288.58 L247.361,288.31 L247.779,288.04 L248.196,287.77 L248.614,287.51 L249.031,287.25 L249.449,287.00 L249.866,286.74 L250.284,286.49 L250.701,286.25 L251.119,286.00 L251.536,285.76 L251.954,285.52 L252.371,285.29 L252.788,285.06 L253.206,284.83 L253.623,284.60 L254.041,284.38 L254.458,284.15 L254.876,283.93 L255.293,283.72 L255.711,283.50 L256.128,283.29 L256.546,283.07 L256.963,282.86 L257.381,282.65 L257.798,282.44 L258.216,282.24 L258.633,282.03 L259.051,281.82 L259.468,281.62 L259.886,281.41 L260.303,281.21 L260.721,281.01 L261.138,280.80 L261.556,280.60" fill="none" stroke="#ff0000" stroke-width="1.65" stroke-dasharray="1.6 1.37"/>
<path d="M161.778,350.08 L162.195,349.79 L162.613,349.51 L163.030,349.23 L163.448,348.95 L163.865,348.69 L164.283,348.44 L164.700,348.20 L165.118,347.98 L165.535,347.79 L165.953,347.61 L166.370,347.45 L166.788,347.31 L167.205,347.19 L167.623,347.09 L168.040,347.00 L168.457,346.93 L168.875,346.87 L169.292,346.82 L169.710,346.78 L170.127,346.75 L170.545,346.73 L170.962,346.71 L171.380,346.70 L171.797,346.70 L172.215,346.69 L172.632,346.69 L173.050,346.69 L173.467,346.69 L173.885,346.68 L174.302,346.68 L174.720,346.68 L175.137,346.68 L175.555,346.67 L175.972,346.67 L176.390,346.67 L176.807,346.67 L177.225,346.66 L177.642,346.66 L178.060,346.66 L178.477,346.66 L178.894,346.66 L179.312,346.66 L179.729,346.66 L180.147,346.66 L180.564,346.66 L180.982,346.67 L181.399,346.67 L181.817,346.68 L182.234,346.68 L182.652,346.69 L183.069,346.70 L183.487,346.71 L183.904,346.72 L184.322,346.73 L184.739,346.74 L185.157,346.76 L185.574,346.77 L185.992,346.79 L186.409,346.81 L186.827,346.82 L187.244,346.84 L187.662,346.87 L188.079,346.89 L188.497,346.91 L188.914,346.94 L189.331,346.96 L189.749,346.99 L190.166,347.02 L190.584,347.05 L191.001,347.08 L191.419,347.11 L191.836,347.14 L192.254,347.17 L192.671,347.21 L193.089,347.25 L193.506,347.28 L193.924,347.32 L194.341,347.36 L194.759,347.40 L195.176,347.44 L195.594,347.48 L196.011,347.53 L196.429,347.57 L196.846,347.61 L197.264,347.66 L197.681,347.71 L198.099,347.75 L198.516,347.80 L198.934,347.85 L199.351,347.89 L199.768,347.94 L200.186,347.99 L200.603,348.04 L201.021,348.09 L201.438,348.14 L201.856,348.18 L202.273,348.23 L202.691,348.28 L203.108,348.33 L203.526,348.38 L203.943,348.43 L204.361,348.47 L204.778,348.52 L205.196,348.57 L205.613,348.62 L206.031,348.66 L206.448,348.71 L206.866,348.76 L207.283,348.80 L207.701,348.85 L208.118,348.90 L208.536,348.94 L208.953,348.99 L209.371,349.03 L209.788,349.08 L210.205,349.12 L210.623,349.17 L211.040,349.21 L211.458,349.26 L211.875,349.30 L212.293,349.35 L212.710,349.39 L213.128,349.44 L213.545,349.48 L213.963,349.52 L214.380,349.57 L214.798,349.61 L215.215,349.66 L215.633,349.70 L216.050,349.74 L216.468,349.79 L216.885,349.83 L217.303,349.88 L217.720,349.92 L218.138,349.97 L218.555,350.01 L218.973,350.05 L219.390,350.10 L219.808,350.14 L220.225,350.19 L220.642,350.23 L221.060,350.28 L221.477,350.32 L221.895,350.37 L222.312,350.41 L222.730,350.46 L223.147,350.50 L223.565,350.55 L223.982,350.59 L224.400,350.64 L224.817,350.68 L225.235,350.73 L225.652,350.77 L226.070,350.82 L226.487,350.86 L226.905,350.91 L227.322,350.95 L227.740,351.00 L228.157,351.04 L228.575,351.09 L228.992,351.13 L229.410,351.18 L229.827,351.23 L230.245,351.27 L230.662,351.32 L231.079,351.36 L231.497,351.41 L231.914,351.45 L232.332,351.50 L232.749,351.54 L233.167,351.59 L233.584,351.64 L234.002,351.68 L234.419,351.73 L234.837,351.77 L235.254,351.82 L235.672,351.87 L236.089,351.91 L236.507,351.96 L236.924,352.00 L237.342,352.05 L237.759,352.09 L238.177,352.14 L238.594,352.19 L239.012,352.23 L239.429,352.28 L239.847,352.32 L240.264,352.37 L240.682,352.42 L241.099,352.46 L241.517,352.51 L241.934,352.55 L242.351,352.60 L242.769,352.64 L243.186,352.69 L243.604,352.73 L244.021,352.78 L244.439,352.82 L244.856,352.87 L245.274,352.91 L245.691,352.96 L246.109,353.00 L246.526,353.05 L246.944,353.09 L247.361,353.14 L247.779,353.18 L248.196,353.23 L248.614,353.27 L249.031,353.32 L249.449,353.36 L249.866,353.40 L250.284,353.45 L250.701,353.49 L251.119,353.54 L251.536,353.58 L251.954,353.62 L252.371,353.67 L252.788,353.71 L253.206,353.75 L253.623,353.80 L254.041,353.84 L254.458,353.88 L254.876,353.92 L255.293,353.97 L255.711,354.01 L256.128,354.05 L256.546,354.09 L256.963,354.14 L257.381,354.18 L257.798,354.22 L258.216,354.26 L258.633,354.31 L259.051,354.35 L259.468,354.39 L259.886,354.43 L260.303,354.47 L260.721,354.52 L261.138,354.56 L261.556,354.60" fill="none" stroke="#0000ff" stroke-width="1.75" stroke-dasharray="1.6 1.8 0.74 1.74"/>
<path d="M161.778,315.09 L162.195,314.77 L162.613,314.45 L163.030,314.13 L163.448,313.81 L163.865,313.50 L164.283,313.19 L164.700,312.89 L165.118,312.60 L165.535,312.32 L165.953,312.04 L166.370,311.78 L166.788,311.53 L167.205,311.30 L167.623,311.08 L168.040,310.87 L168.457,310.68 L168.875,310.51 L169.292,310.34 L169.710,310.19 L170.127,310.05 L170.545,309.93 L170.962,309.81 L171.380,309.70 L171.797,309.60 L172.215,309.51 L172.632,309.42 L173.050,309.35 L173.467,309.27 L173.885,309.21 L174.302,309.14 L174.720,309.09 L175.137,309.04 L175.555,308.99 L175.972,308.95 L176.390,308.92 L176.807,308.89 L177.225,308.86 L177.642,308.84 L178.060,308.82 L178.477,308.81 L178.894,308.80 L179.312,308.80 L179.729,308.79 L180.147,308.80 L180.564,308.80 L180.982,308.81 L181.399,308.83 L181.817,308.85 L182.234,308.87 L182.652,308.89 L183.069,308.92 L183.487,308.96 L183.904,309.00 L184.322,309.04 L184.739,309.09 L185.157,309.14 L185.574,309.19 L185.992,309.25 L186.409,309.32 L186.827,309.39 L187.244,309.46 L187.662,309.54 L188.079,309.62 L188.497,309.70 L188.914,309.79 L189.331,309.89 L189.749,309.99 L190.166,310.09 L190.584,310.20 L191.001,310.31 L191.419,310.43 L191.836,310.55 L192.254,310.67 L192.671,310.80 L193.089,310.93 L193.506,311.07 L193.924,311.21 L194.341,311.35 L194.759,311.49 L195.176,311.64 L195.594,311.79 L196.011,311.95 L196.429,312.10 L196.846,312.26 L197.264,312.43 L197.681,312.59 L198.099,312.76 L198.516,312.93 L198.934,313.10 L199.351,313.28 L199.768,313.46 L200.186,313.64 L200.603,313.82 L201.021,314.00 L201.438,314.19 L201.856,314.37 L202.273,314.56 L202.691,314.74 L203.108,314.93 L203.526,315.12 L203.943,315.31 L204.361,315.49 L204.778,315.68 L205.196,315.87 L205.613,316.05 L206.031,316.24 L206.448,316.42 L206.866,316.61 L207.283,316.79 L207.701,316.97 L208.118,317.14 L208.536,317.32 L208.953,317.50 L209.371,317.68 L209.788,317.87 L210.205,318.06 L210.623,318.25 L211.040,318.45 L211.458,318.66 L211.875,318.88 L212.293,319.10 L212.710,319.33 L213.128,319.57 L213.545,319.81 L213.963,320.06 L214.380,320.32 L214.798,320.57 L215.215,320.84 L215.633,321.10 L216.050,321.37 L216.468,321.63 L216.885,321.90 L217.303,322.17 L217.720,322.43 L218.138,322.70 L218.555,322.96 L218.973,323.23 L219.390,323.48 L219.808,323.74 L220.225,323.99 L220.642,324.23 L221.060,324.48 L221.477,324.72 L221.895,324.96 L222.312,325.19 L222.730,325.42 L223.147,325.65 L223.565,325.88 L223.982,326.11 L224.400,326.33 L224.817,326.55 L225.235,326.78 L225.652,327.00 L226.070,327.22 L226.487,327.43 L226.905,327.65 L227.322,327.87 L227.740,328.09 L228.157,328.31 L228.575,328.53 L228.992,328.75 L229.410,328.97 L229.827,329.19 L230.245,329.41 L230.662,329.64 L231.079,329.86 L231.497,330.09 L231.914,330.31 L232.332,330.54 L232.749,330.77 L233.167,330.99 L233.584,331.22 L234.002,331.45 L234.419,331.68 L234.837,331.90 L235.254,332.13 L235.672,332.36 L236.089,332.58 L236.507,332.81 L236.924,333.03 L237.342,333.25 L237.759,333.47 L238.177,333.69 L238.594,333.91 L239.012,334.13 L239.429,334.34 L239.847,334.55 L240.264,334.76 L240.682,334.97 L241.099,335.18 L241.517,335.38 L241.934,335.58 L242.351,335.78 L242.769,335.98 L243.186,336.17 L243.604,336.37 L244.021,336.56 L244.439,336.75 L244.856,336.93 L245.274,337.12 L245.691,337.30 L246.109,337.48 L246.526,337.66 L246.944,337.84 L247.361,338.02 L247.779,338.19 L248.196,338.37 L248.614,338.54 L249.031,338.71 L249.449,338.87 L249.866,339.04 L250.284,339.21 L250.701,339.37 L251.119,339.53 L251.536,339.69 L251.954,339.85 L252.371,340.01 L252.788,340.17 L253.206,340.33 L253.623,340.48 L254.041,340.64 L254.458,340.79 L254.876,340.94 L255.293,341.09 L255.711,341.24 L256.128,341.39 L256.546,341.54 L256.963,341.69 L257.381,341.84 L257.798,341.99 L258.216,342.13 L258.633,342.28 L259.051,342.43 L259.468,342.57 L259.886,342.72 L260.303,342.86 L260.721,343.01 L261.138,343.16 L261.556,343.30" fill="none" stroke="#000" stroke-width="1.6"/>
<path d="M79.185,269.4 H91.481" fill="none" stroke="#00ff00" stroke-width="1.65" stroke-dasharray="0.68 0.80"/>
<path d="M79.185,277.3 H91.481" fill="none" stroke="#000" stroke-width="1.6"/>
<path d="M79.185,285.0 H91.481" fill="none" stroke="#ff0000" stroke-width="1.65" stroke-dasharray="1.6 1.37"/>
<path d="M79.185,292.8 H91.481" fill="none" stroke="#0000ff" stroke-width="1.75" stroke-dasharray="1.6 1.8 0.74 1.74"/>
<path d="M79.185,300.5 H91.481" fill="none" stroke="#ff00ff" stroke-width="0.6" stroke-opacity="0.35"/>
<path d="M179.185,269.4 H190.000" fill="none" stroke="#00ff00" stroke-width="1.65" stroke-dasharray="0.68 0.80"/>
<path d="M179.185,277.3 H190.000" fill="none" stroke="#000" stroke-width="1.6"/>
<path d="M179.185,285.0 H190.000" fill="none" stroke="#ff0000" stroke-width="1.65" stroke-dasharray="1.6 1.37"/>
<path d="M179.185,292.8 H190.000" fill="none" stroke="#0000ff" stroke-width="1.75" stroke-dasharray="1.6 1.8 0.74 1.74"/>
<path d="M179.185,300.5 H190.000" fill="none" stroke="#ff00ff" stroke-width="0.6" stroke-opacity="0.35"/>
</g>
<text transform="translate(47.30,360.95) scale(2.72,1)" text-anchor="end" class="tk">0</text>
<text transform="translate(47.30,361.15) scale(2.72,1)" text-anchor="end" class="tk">0</text>
<text transform="translate(45.50,349.95) scale(2.72,1)" text-anchor="end" class="tk">0.1</text>
<text transform="translate(45.50,350.15) scale(2.72,1)" text-anchor="end" class="tk">0.1</text>
<text transform="translate(47.30,338.95) scale(2.72,1)" text-anchor="end" class="tk">0.2</text>
<text transform="translate(47.30,339.15) scale(2.72,1)" text-anchor="end" class="tk">0.2</text>
<text transform="translate(47.30,326.95) scale(2.72,1)" text-anchor="end" class="tk">0.3</text>
<text transform="translate(47.30,327.15) scale(2.72,1)" text-anchor="end" class="tk">0.3</text>
<text transform="translate(47.30,315.95) scale(2.72,1)" text-anchor="end" class="tk">0.4</text>
<text transform="translate(47.30,316.15) scale(2.72,1)" text-anchor="end" class="tk">0.4</text>
<text transform="translate(47.30,304.95) scale(2.72,1)" text-anchor="end" class="tk">0.5</text>
<text transform="translate(47.30,305.15) scale(2.72,1)" text-anchor="end" class="tk">0.5</text>
<text transform="translate(47.30,293.95) scale(2.72,1)" text-anchor="end" class="tk">0.6</text>
<text transform="translate(47.30,294.15) scale(2.72,1)" text-anchor="end" class="tk">0.6</text>
<text transform="translate(47.30,282.95) scale(2.72,1)" text-anchor="end" class="tk">0.7</text>
<text transform="translate(47.30,283.15) scale(2.72,1)" text-anchor="end" class="tk">0.7</text>
<text transform="translate(47.30,271.95) scale(2.72,1)" text-anchor="end" class="tk">0.8</text>
<text transform="translate(47.30,272.15) scale(2.72,1)" text-anchor="end" class="tk">0.8</text>
<text transform="translate(403.60,360.95) scale(2.72,1)" text-anchor="end" class="tk">0</text>
<text transform="translate(403.60,361.15) scale(2.72,1)" text-anchor="end" class="tk">0</text>
<text transform="translate(401.80,349.95) scale(2.72,1)" text-anchor="end" class="tk">0.1</text>
<text transform="translate(401.80,350.15) scale(2.72,1)" text-anchor="end" class="tk">0.1</text>
<text transform="translate(403.60,338.95) scale(2.72,1)" text-anchor="end" class="tk">0.2</text>
<text transform="translate(403.60,339.15) scale(2.72,1)" text-anchor="end" class="tk">0.2</text>
<text transform="translate(403.60,326.95) scale(2.72,1)" text-anchor="end" class="tk">0.3</text>
<text transform="translate(403.60,327.15) scale(2.72,1)" text-anchor="end" class="tk">0.3</text>
<text transform="translate(403.60,315.95) scale(2.72,1)" text-anchor="end" class="tk">0.4</text>
<text transform="translate(403.60,316.15) scale(2.72,1)" text-anchor="end" class="tk">0.4</text>
<text transform="translate(403.60,304.95) scale(2.72,1)" text-anchor="end" class="tk">0.5</text>
<text transform="translate(403.60,305.15) scale(2.72,1)" text-anchor="end" class="tk">0.5</text>
<text transform="translate(403.60,293.95) scale(2.72,1)" text-anchor="end" class="tk">0.6</text>
<text transform="translate(403.60,294.15) scale(2.72,1)" text-anchor="end" class="tk">0.6</text>
<text transform="translate(403.60,282.95) scale(2.72,1)" text-anchor="end" class="tk">0.7</text>
<text transform="translate(403.60,283.15) scale(2.72,1)" text-anchor="end" class="tk">0.7</text>
<text transform="translate(403.60,271.95) scale(2.72,1)" text-anchor="end" class="tk">0.8</text>
<text transform="translate(403.60,272.15) scale(2.72,1)" text-anchor="end" class="tk">0.8</text>
<text transform="translate(124.30,370.70) scale(2.72,1)" text-anchor="middle" class="tk">-0.5</text>
<text transform="translate(124.30,370.90) scale(2.72,1)" text-anchor="middle" class="tk">-0.5</text>
<text transform="translate(205.70,370.70) scale(2.72,1)" text-anchor="middle" class="tk">0</text>
<text transform="translate(205.70,370.90) scale(2.72,1)" text-anchor="middle" class="tk">0</text>
<text transform="translate(287.00,370.70) scale(2.72,1)" text-anchor="middle" class="tk">0.5</text>
<text transform="translate(287.00,370.90) scale(2.72,1)" text-anchor="middle" class="tk">0.5</text>
<text transform="translate(415.00,370.70) scale(2.72,1)" text-anchor="middle" class="tk">0</text>
<text transform="translate(415.00,370.90) scale(2.72,1)" text-anchor="middle" class="tk">0</text>
<text transform="translate(514.00,370.70) scale(2.72,1)" text-anchor="middle" class="tk">10</text>
<text transform="translate(514.00,370.90) scale(2.72,1)" text-anchor="middle" class="tk">10</text>
<text transform="translate(610.50,370.70) scale(2.72,1)" text-anchor="middle" class="tk">20</text>
<text transform="translate(610.50,370.90) scale(2.72,1)" text-anchor="middle" class="tk">20</text>
<text transform="translate(708.30,370.70) scale(2.72,1)" text-anchor="middle" class="tk">30</text>
<text transform="translate(708.30,370.90) scale(2.72,1)" text-anchor="middle" class="tk">30</text>
<text transform="translate(252.05,271.80) scale(1.7,1)" text-anchor="start" class="lg">b</text>
<text transform="translate(257.40,271.80) scale(2.6,1)" text-anchor="start" class="lg">W</text>
<text transform="translate(272.40,269.60) scale(1.6,1)" text-anchor="start" class="sup">+</text>
<text transform="translate(279.70,271.80) scale(3.5,1)" text-anchor="start" class="lg">χ</text>
<text transform="translate(290.40,269.60) scale(1.6,1)" text-anchor="start" class="sup">0</text>
<text transform="translate(290.80,272.70) scale(1.6,1)" text-anchor="start" class="sup">1</text>
<text transform="translate(294.21,271.80) scale(2.0,1)" text-anchor="start" class="lg">,</text>
<path d="M279.70,267.80 q2.38,-1.2 4.75,-0.4 t4.75,-0.4" fill="none" stroke="#666" stroke-width="0.55"/>
<text transform="translate(252.05,280.00) scale(1.7,1)" text-anchor="start" class="lg">b</text>
<text transform="translate(258.78,280.00) scale(2.9,1)" text-anchor="start" class="lg">τ</text>
<text transform="translate(268.30,277.80) scale(1.6,1)" text-anchor="start" class="sup">+</text>
<text transform="translate(276.51,280.00) scale(2.0,1)" text-anchor="start" class="lg">,</text>
<text transform="translate(252.05,288.30) scale(1.7,1)" text-anchor="start" class="lg">b</text>
<text transform="translate(259.70,288.30) scale(2.4,1)" text-anchor="start" class="lg">ν</text>
<text transform="translate(267.70,289.20) scale(1.6,1)" text-anchor="start" class="sup">τ</text>
<text transform="translate(279.12,288.30) scale(2.1,1)" text-anchor="start" class="lg">S</text>
<text transform="translate(287.10,286.10) scale(1.6,1)" text-anchor="start" class="sup">+</text>
<text transform="translate(287.50,289.20) scale(1.6,1)" text-anchor="start" class="sup">1</text>
<text transform="translate(289.52,288.30) scale(2.85,1)" text-anchor="start" class="lg">+</text>
<text transform="translate(302.05,288.30) scale(1.7,1)" text-anchor="start" class="lg">b</text>
<text transform="translate(309.18,288.30) scale(2.9,1)" text-anchor="start" class="lg">τ</text>
<text transform="translate(318.70,286.10) scale(1.6,1)" text-anchor="start" class="sup">+</text>
<text transform="translate(326.32,288.30) scale(2.1,1)" text-anchor="start" class="lg">S</text>
<text transform="translate(334.90,286.10) scale(1.6,1)" text-anchor="start" class="sup">0</text>
<text transform="translate(335.30,289.20) scale(1.6,1)" text-anchor="start" class="sup">1</text>
<text transform="translate(338.01,288.30) scale(2.0,1)" text-anchor="start" class="lg">,</text>
<path d="M279.90,284.30 q1.58,-1.2 3.15,-0.4 t3.15,-0.4" fill="none" stroke="#666" stroke-width="0.55"/>
<path d="M327.10,284.30 q1.57,-1.2 3.15,-0.4 t3.15,-0.4" fill="none" stroke="#666" stroke-width="0.55"/>
<text style="fill:#222" transform="translate(252.05,296.50) scale(1.7,1)" text-anchor="start" class="lg">b</text>
<text style="fill:#222" transform="translate(259.70,296.50) scale(2.4,1)" text-anchor="start" class="lg">ν</text>
<text transform="translate(268.30,297.40) scale(1.6,1)" text-anchor="start" class="sup">e</text>
<text style="fill:#222" transform="translate(273.39,296.50) scale(2.3,1)" text-anchor="start" class="lg">e</text>
<text transform="translate(280.80,294.30) scale(1.6,1)" text-anchor="start" class="sup">+</text>
<text transform="translate(281.00,297.40) scale(1.6,1)" text-anchor="start" class="sup">L</text>
<text style="fill:#222" transform="translate(284.42,296.50) scale(2.85,1)" text-anchor="start" class="lg">+</text>
<text style="fill:#222" transform="translate(298.55,296.50) scale(1.7,1)" text-anchor="start" class="lg">b</text>
<text style="fill:#222" transform="translate(305.69,296.50) scale(2.3,1)" text-anchor="start" class="lg">e</text>
<text transform="translate(315.40,294.30) scale(1.6,1)" text-anchor="start" class="sup">+</text>
<text style="fill:#222" transform="translate(322.10,296.50) scale(2.4,1)" text-anchor="start" class="lg">ν</text>
<text transform="translate(329.50,297.40) scale(1.6,1)" text-anchor="start" class="sup">e</text>
<text style="fill:#222" transform="translate(334.51,296.50) scale(2.0,1)" text-anchor="start" class="lg">,</text>
<path d="M273.90,292.40 H279.90" fill="none" stroke="#444" stroke-width="0.6"/>
<path d="M322.10,292.40 H328.20" fill="none" stroke="#444" stroke-width="0.6"/>
<text transform="translate(252.31,304.50) scale(1.75,1)" text-anchor="start" class="lg">c</text>
<text transform="translate(258.90,304.50) scale(3.5,1)" text-anchor="start" class="lg">χ</text>
<text transform="translate(269.90,302.30) scale(1.6,1)" text-anchor="start" class="sup">0</text>
<text transform="translate(270.30,305.40) scale(1.6,1)" text-anchor="start" class="sup">1</text>
<text transform="translate(273.81,304.50) scale(2.0,1)" text-anchor="start" class="lg">,</text>
<path d="M259.20,300.70 q2.30,-1.2 4.60,-0.4 t4.60,-0.4" fill="none" stroke="#666" stroke-width="0.55"/>
<text transform="translate(516.65,271.80) scale(1.7,1)" text-anchor="start" class="lg">b</text>
<text transform="translate(522.00,271.80) scale(2.6,1)" text-anchor="start" class="lg">W</text>
<text transform="translate(537.00,269.60) scale(1.6,1)" text-anchor="start" class="sup">+</text>
<text transform="translate(544.30,271.80) scale(3.5,1)" text-anchor="start" class="lg">χ</text>
<text transform="translate(555.00,269.60) scale(1.6,1)" text-anchor="start" class="sup">0</text>
<text transform="translate(555.40,272.70) scale(1.6,1)" text-anchor="start" class="sup">1</text>
<text transform="translate(558.81,271.80) scale(2.0,1)" text-anchor="start" class="lg">,</text>
<path d="M544.30,267.80 q2.38,-1.2 4.75,-0.4 t4.75,-0.4" fill="none" stroke="#666" stroke-width="0.55"/>
<text transform="translate(516.65,280.00) scale(1.7,1)" text-anchor="start" class="lg">b</text>
<text transform="translate(523.38,280.00) scale(2.9,1)" text-anchor="start" class="lg">τ</text>
<text transform="translate(532.90,277.80) scale(1.6,1)" text-anchor="start" class="sup">+</text>
<text transform="translate(541.11,280.00) scale(2.0,1)" text-anchor="start" class="lg">,</text>
<text transform="translate(516.65,288.30) scale(1.7,1)" text-anchor="start" class="lg">b</text>
<text transform="translate(524.30,288.30) scale(2.4,1)" text-anchor="start" class="lg">ν</text>
<text transform="translate(532.30,289.20) scale(1.6,1)" text-anchor="start" class="sup">τ</text>
<text transform="translate(543.72,288.30) scale(2.1,1)" text-anchor="start" class="lg">S</text>
<text transform="translate(551.70,286.10) scale(1.6,1)" text-anchor="start" class="sup">+</text>
<text transform="translate(552.10,289.20) scale(1.6,1)" text-anchor="start" class="sup">1</text>
<text transform="translate(554.12,288.30) scale(2.85,1)" text-anchor="start" class="lg">+</text>
<text transform="translate(566.65,288.30) scale(1.7,1)" text-anchor="start" class="lg">b</text>
<text transform="translate(573.78,288.30) scale(2.9,1)" text-anchor="start" class="lg">τ</text>
<text transform="translate(583.30,286.10) scale(1.6,1)" text-anchor="start" class="sup">+</text>
<text transform="translate(590.92,288.30) scale(2.1,1)" text-anchor="start" class="lg">S</text>
<text transform="translate(599.50,286.10) scale(1.6,1)" text-anchor="start" class="sup">0</text>
<text transform="translate(599.90,289.20) scale(1.6,1)" text-anchor="start" class="sup">1</text>
<text transform="translate(602.61,288.30) scale(2.0,1)" text-anchor="start" class="lg">,</text>
<path d="M544.50,284.30 q1.58,-1.2 3.15,-0.4 t3.15,-0.4" fill="none" stroke="#666" stroke-width="0.55"/>
<path d="M591.70,284.30 q1.57,-1.2 3.15,-0.4 t3.15,-0.4" fill="none" stroke="#666" stroke-width="0.55"/>
<text style="fill:#222" transform="translate(516.65,296.50) scale(1.7,1)" text-anchor="start" class="lg">b</text>
<text style="fill:#222" transform="translate(524.30,296.50) scale(2.4,1)" text-anchor="start" class="lg">ν</text>
<text transform="translate(532.90,297.40) scale(1.6,1)" text-anchor="start" class="sup">e</text>
<text style="fill:#222" transform="translate(537.99,296.50) scale(2.3,1)" text-anchor="start" class="lg">e</text>
<text transform="translate(545.40,294.30) scale(1.6,1)" text-anchor="start" class="sup">+</text>
<text transform="translate(545.60,297.40) scale(1.6,1)" text-anchor="start" class="sup">L</text>
<text style="fill:#222" transform="translate(549.02,296.50) scale(2.85,1)" text-anchor="start" class="lg">+</text>
<text style="fill:#222" transform="translate(563.15,296.50) scale(1.7,1)" text-anchor="start" class="lg">b</text>
<text style="fill:#222" transform="translate(570.29,296.50) scale(2.3,1)" text-anchor="start" class="lg">e</text>
<text transform="translate(580.00,294.30) scale(1.6,1)" text-anchor="start" class="sup">+</text>
<text style="fill:#222" transform="translate(586.70,296.50) scale(2.4,1)" text-anchor="start" class="lg">ν</text>
<text transform="translate(594.10,297.40) scale(1.6,1)" text-anchor="start" class="sup">e</text>
<text style="fill:#222" transform="translate(599.11,296.50) scale(2.0,1)" text-anchor="start" class="lg">,</text>
<path d="M538.50,292.40 H544.50" fill="none" stroke="#444" stroke-width="0.6"/>
<path d="M586.70,292.40 H592.80" fill="none" stroke="#444" stroke-width="0.6"/>
<text transform="translate(516.91,304.50) scale(1.75,1)" text-anchor="start" class="lg">c</text>
<text transform="translate(523.50,304.50) scale(3.5,1)" text-anchor="start" class="lg">χ</text>
<text transform="translate(534.50,302.30) scale(1.6,1)" text-anchor="start" class="sup">0</text>
<text transform="translate(534.90,305.40) scale(1.6,1)" text-anchor="start" class="sup">1</text>
<text transform="translate(538.41,304.50) scale(2.0,1)" text-anchor="start" class="lg">,</text>
<path d="M523.80,300.70 q2.30,-1.2 4.60,-0.4 t4.60,-0.4" fill="none" stroke="#666" stroke-width="0.55"/>
<text style="fill:#666" transform="translate(162.50,271.70) scale(2.6,1)" text-anchor="start" class="lg">t</text><text transform="translate(168.70,272.80) scale(1.3,1)" text-anchor="start" class="sup">1</text><path d="M160.20,267.2 q2.1,-1.3 4.2,-0.3 t4.2,-0.5" fill="none" stroke="#666" stroke-width="0.6"/><path d="M180.50,270.1 H196.50" fill="none" stroke="#aaa" stroke-width="0.55"/><path d="M192.50,268.70000000000005 L198.50,270.1 L192.50,271.5" fill="none" stroke="#666" stroke-width="0.6"/>
<text style="fill:#666" transform="translate(440.00,271.70) scale(2.6,1)" text-anchor="start" class="lg">t</text><text transform="translate(446.20,272.80) scale(1.3,1)" text-anchor="start" class="sup">1</text><path d="M437.70,267.2 q2.1,-1.3 4.2,-0.3 t4.2,-0.5" fill="none" stroke="#666" stroke-width="0.6"/><path d="M458.50,270.1 H474.50" fill="none" stroke="#aaa" stroke-width="0.55"/><path d="M470.50,268.70000000000005 L476.50,270.1 L470.50,271.5" fill="none" stroke="#666" stroke-width="0.6"/>
<path d="M67.50,254.1 h6" stroke="#000" stroke-width="0.8"/><text transform="translate(27.00,258.80) scale(2.42,1)" text-anchor="start" class="tt">a) Br(t<tspan class="tsub" dy="1.0">1</tspan><tspan dy="-1.0">)</tspan></text>
<path d="M426.00,254.1 h6" stroke="#000" stroke-width="0.8"/><text transform="translate(385.50,258.80) scale(2.42,1)" text-anchor="start" class="tt">b) Br(t<tspan class="tsub" dy="1.0">1</tspan><tspan dy="-1.0">)</tspan></text>
<text transform="translate(306.50,376.40) scale(2.78,1)" text-anchor="start" class="ax">cos</text>
<text transform="translate(333.90,375.80) scale(2.7,1)" text-anchor="start" class="axt">θ</text>
<text transform="translate(346.60,379.20) scale(2.5,1)" text-anchor="start" class="axs">τ</text>
<path d="M347,374.7 H354" stroke="#000" stroke-width="0.8"/>
<text transform="translate(669.80,376.10) scale(2.78,1)" text-anchor="start" class="ax">tan</text>
<text transform="translate(698.20,376.00) scale(2.95,1)" text-anchor="start" class="axb">β</text>
</g>
</svg>
</body></html>
